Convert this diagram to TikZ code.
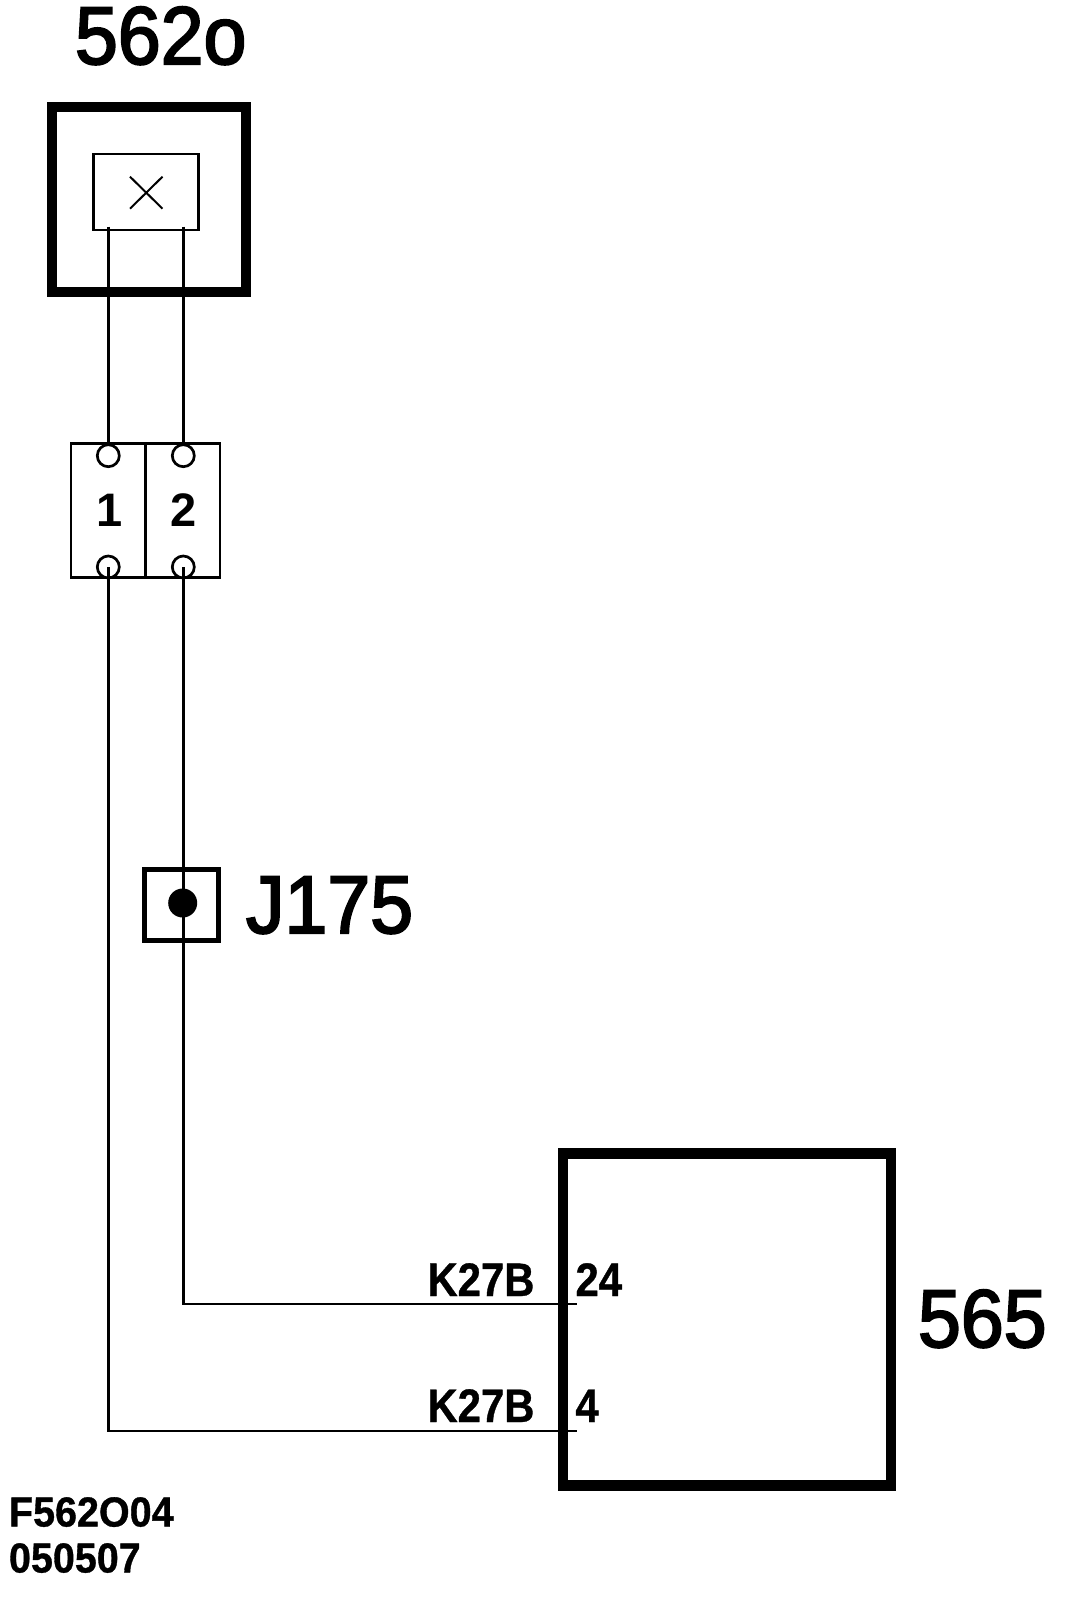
\documentclass[tikz,border=0pt]{standalone}
\usepackage{fontspec}
\setmainfont{Liberation Sans}
\newfontfamily\bigf[FakeStretch=0.94,FakeBold=2.5]{Liberation Sans}
\newfontfamily\midf[FakeStretch=0.89,BoldFeatures={FakeStretch=0.89,FakeBold=0.8}]{Liberation Sans}
\newfontfamily\footf[FakeStretch=0.94,BoldFeatures={FakeStretch=0.94,FakeBold=0.8}]{Liberation Sans}
\begin{document}
\begin{tikzpicture}[x=1pt,y=-1pt,
  every node/.style={outer sep=0pt,inner sep=0pt},
  wire/.style={line width=2.7pt},
  thin box/.style={draw,line width=2.7pt,rectangle},
  heavy box/.style={draw,line width=10.4pt,rectangle},
  pin/.style={draw,fill=white,line width=2.7pt,circle,minimum size=22pt},
  bigtext/.style={anchor=base west,font=\bigf\fontsize{82}{82}\selectfont},
  midtext/.style={anchor=base west,font=\midf\fontsize{47}{47}\selectfont\bfseries},
  foottext/.style={anchor=base west,font=\footf\fontsize{42}{42}\selectfont\bfseries},
  pintext/.style={font=\fontsize{47}{47}\selectfont\bfseries}]
\useasboundingbox (0,0) rectangle (1088,1602);
\fill[white] (0,0) rectangle (1088,1602);

\node[bigtext] (t562) at (75,64) {562o};
\node[heavy box,minimum width=194pt,minimum height=185pt] (ecu) at (149,199.3) {};
\node[thin box,minimum width=105pt,minimum height=76pt] (sw) at (145.7,192) {};
\coordinate (xa) at (130,176.7);
\coordinate (xb) at (162.5,208.7);
\coordinate (xc) at (130,208.7);
\coordinate (xd) at (162.5,176.7);
\draw[line width=2pt] (xa) -- (xb) (xc) -- (xd);

\node[thin box,minimum width=149pt,minimum height=134pt] (conn) at (145.5,510.7) {};
\coordinate (div1) at (145.5,443.7);
\coordinate (div2) at (145.5,577.7);
\draw[wire] (div1) -- (div2);
\node[pintext] (n1) at (110,510.5) {1};
\node[pintext] (n2) at (183.3,510.5) {2};
\node[pin] (p1t) at (108.3,455.7) {};
\node[pin] (p2t) at (183.3,455.7) {};
\node[pin] (p1b) at (108.3,567) {};
\node[pin] (p2b) at (183.3,567) {};

\coordinate (s1) at (108.3,226.7);
\coordinate (s2) at (183.3,226.7);
\draw[wire] (s1) -- (p1t.north);
\draw[wire] (s2) -- (p2t.north);

\node[draw,line width=5pt,rectangle,minimum width=74pt,minimum height=71pt] (jbox) at (181.7,904.5) {};
\node[circle,fill=black,minimum size=29pt] (jdot) at (182.7,903) {};
\node[bigtext] (j175) at (246,933) {J175};

\node[heavy box,minimum width=328pt,minimum height=332pt] (mod) at (727,1319.5) {};
\node[bigtext] (t565) at (918,1347) {565};

\coordinate (e24) at (577,1304);
\coordinate (e4) at (577,1431);
\coordinate (c24) at (p2b.south |- e24);
\coordinate (c4) at (p1b.south |- e4);
\draw[wire] (p2b.center) -- (jdot.center -| p2b.center) -- (c24) -- (e24);
\draw[wire] (p1b.center) -- (c4) -- (e4);
\node[midtext] (k1) at (427.5,1296) {K27B};
\node[midtext] (k2) at (427.5,1422) {K27B};
\node[midtext] (l24) at (575.5,1296) {24};
\node[midtext] (l4) at (575.5,1422) {4};

\node[foottext] (f1) at (9,1526.5) {F562O04};
\node[foottext] (f2) at (9,1572.5) {050507};
\end{tikzpicture}
\end{document}
